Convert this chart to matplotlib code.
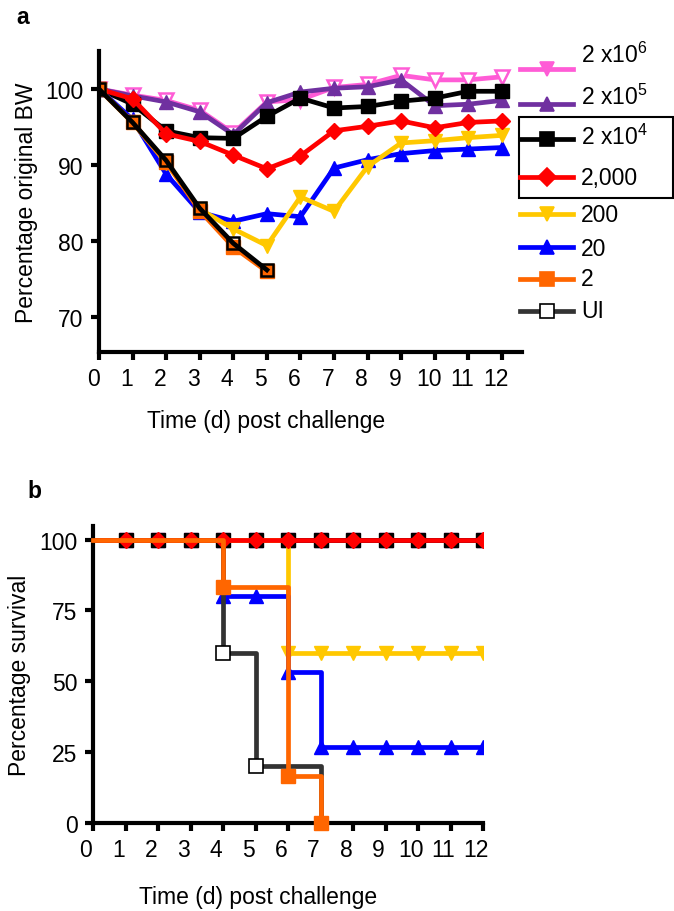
import matplotlib
matplotlib.use("Agg")
import matplotlib.pyplot as plt
from matplotlib.lines import Line2D
from matplotlib.patches import Rectangle
from matplotlib.transforms import ScaledTranslation

plt.rcParams['font.family'] = ['Liberation Sans', 'DejaVu Sans']
plt.rcParams['mathtext.fontset'] = 'custom'
plt.rcParams['mathtext.rm'] = 'Liberation Sans'

# ---- data: body weight (panel a) ----
days = list(range(13))
bw_2e6 = [100, 99.2, 98.5, 97.2, 94.2, 98.3, 98.6, 100.2, 100.6, 101.8, 101.2, 101.2, 101.6]
bw_2e5 = [100, 99.1, 98.3, 97.0, 94.0, 98.2, 99.6, 100.1, 100.3, 101.2, 97.8, 98.0, 98.5]
bw_2e4 = [100, 98.0, 94.5, 93.6, 93.5, 96.4, 98.8, 97.5, 97.7, 98.4, 98.8, 99.7, 99.7]
bw_2000 = [100, 98.7, 94.1, 93.1, 91.3, 89.5, 91.2, 94.5, 95.1, 95.8, 94.9, 95.6, 95.8]
bw_200 = [100, 95.6, 90.3, 84.2, 81.6, 79.4, 85.8, 83.9, 89.8, 92.9, 93.2, 93.6, 93.9]
bw_20 = [100, 96.0, 88.8, 83.8, 82.6, 83.6, 83.2, 89.6, 90.7, 91.5, 91.9, 92.1, 92.3]
bw_2 = [100, 95.6, 90.4, 84.0, 79.2, 76.0]
bw_ui = [100, 95.6, 90.6, 84.3, 79.7, 76.2]

# ---- data: survival (panel b) ----
surv_hi_x = list(range(13))
surv_hi_y = [100] * 13
surv_200_x = [0, 6, 7, 8, 9, 10, 11, 12]
surv_200_y = [100, 60, 60, 60, 60, 60, 60, 60]
surv_20_x = [0, 4, 5, 6, 7, 8, 9, 10, 11, 12]
surv_20_y = [100, 80, 80, 53.3, 26.7, 26.7, 26.7, 26.7, 26.7, 26.7]
surv_2_x = [0, 4, 6, 7]
surv_2_y = [100, 83.3, 16.7, 0]
surv_ui_x = [0, 4, 5, 7]
surv_ui_y = [100, 60, 20, 0]

labels = ['2 x10$^{6}$', '2 x10$^{5}$', '2 x10$^{4}$', '2,000', '200', '20', '2', 'UI']

PINK = '#FF5CD6'
PURPLE = '#7030A0'
RED = '#FF0000'
YELLOW = '#FFC800'
BLUE = '#0000FF'
ORANGE = '#FF6600'
GREY = '#333333'

W, H = 674, 912
fig = plt.figure(figsize=(W / 100, H / 100), dpi=100)

def fpx(x, y):
    return x / W, 1 - y / H

FS = 16.5
LW = 3.4
MS = 9.5

def style_axes(ax, dx_label):
    for s in ['top', 'right']:
        ax.spines[s].set_visible(False)
    for s in ['left', 'bottom']:
        ax.spines[s].set_linewidth(3.0)
    ax.tick_params(direction='out', length=6, width=3.0, labelsize=FS, pad=5)
    off = ScaledTranslation(dx_label / 100, 0, fig.dpi_scale_trans)
    for lab in ax.get_xticklabels():
        lab.set_transform(lab.get_transform() + off)

# ---------------- panel a ----------------
axa = fig.add_axes([99 / W, 1 - 353 / H, 423 / W, 301 / H])
axa.plot(days, bw_2e6, color=PINK, lw=LW, marker='v', ms=MS, mfc='white', mec=PINK, mew=1.8)
axa.plot(days, bw_2e5, color=PURPLE, lw=LW, marker='^', ms=MS)
axa.plot(days, bw_2e4, color='black', lw=LW, marker='s', ms=MS)
axa.plot(days, bw_20, color=BLUE, lw=LW, marker='^', ms=MS)
axa.plot(days, bw_200, color=YELLOW, lw=LW, marker='v', ms=MS)
axa.plot(days, bw_2000, color=RED, lw=LW, marker='D', ms=MS - 1)
axa.plot(days[:len(bw_2)], bw_2, color=ORANGE, lw=LW, marker='s', ms=MS)
axa.plot(days[:len(bw_ui)], bw_ui, color='black', lw=LW, marker='s', ms=MS - 1,
         mfc='none', mec='black', mew=1.8)
axa.set_xlim(0, 12.6)
axa.set_ylim(65.4, 105)
axa.set_xticks(days)
axa.set_yticks([70, 80, 90, 100])
style_axes(axa, -6)
axa.set_ylabel('Percentage original BW', fontsize=FS)
axa.yaxis.set_label_coords(-0.145, 0.5)
axa.set_xlabel('Time (d) post challenge', fontsize=FS)
axa.xaxis.set_label_coords(0.395, -0.19)

# ---------------- panel b ----------------
axb = fig.add_axes([93 / W, 1 - 824 / H, 390 / W, 297 / H])
skip0 = slice(1, None)
axb.step(surv_hi_x, surv_hi_y, where='post', color=PINK, lw=LW, marker='v', ms=MS, markevery=skip0)
axb.step(surv_hi_x, surv_hi_y, where='post', color=PURPLE, lw=LW, marker='^', ms=MS, markevery=skip0)
axb.step(surv_hi_x, surv_hi_y, where='post', color='black', lw=LW, marker='s', ms=MS, markevery=skip0)
axb.step(surv_200_x, surv_200_y, where='post', color=YELLOW, lw=LW, marker='v', ms=MS, markevery=skip0)
axb.step(surv_20_x, surv_20_y, where='post', color=BLUE, lw=LW, marker='^', ms=MS, markevery=skip0)
axb.step(surv_ui_x, surv_ui_y, where='post', color=GREY, lw=LW, marker='s', ms=MS,
         mfc='white', mec='black', mew=1.2, markevery=[1, 2])
axb.step(surv_2_x, surv_2_y, where='post', color=ORANGE, lw=LW, marker='s', ms=MS,
         markevery=skip0, clip_on=False, zorder=3)
axb.step(surv_hi_x, surv_hi_y, where='post', color=RED, lw=LW, marker='D', ms=MS - 1, markevery=skip0)
axb.set_xlim(0, 12)
axb.set_ylim(0, 104.8)
axb.set_xticks(list(range(13)))
axb.set_yticks([0, 25, 50, 75, 100])
style_axes(axb, -7)
axb.set_ylabel('Percentage survival', fontsize=FS)
axb.yaxis.set_label_coords(-0.16, 0.5)
axb.set_xlabel('Time (d) post challenge', fontsize=FS)
axb.xaxis.set_label_coords(0.423, -0.21)

# panel letters
fig.text(*fpx(16, 17), 'a', fontsize=FS, fontweight='bold', va='center')
fig.text(*fpx(27, 492), 'b', fontsize=FS, fontweight='bold', va='center')

# ---------------- legend (panel a) ----------------
leg_style = [
    (PINK, 'v', PINK, 'none', 70, 55),
    (PURPLE, '^', PURPLE, 'none', 105, 97),
    ('black', 's', 'black', 'none', 140, 137),
    (RED, 'D', RED, 'none', 178, 178),
    (YELLOW, 'v', YELLOW, 'none', 215, 215),
    (BLUE, '^', BLUE, 'none', 248, 249),
    (ORANGE, 's', ORANGE, 'none', 280, 280),
    (GREY, 's', 'white', 'black', 312, 312),
]
for (col, mk, fc, ec, ly, ty), lab in zip(leg_style, labels):
    x0, y0 = fpx(520, ly)
    x1, _ = fpx(573, ly)
    xm, _ = fpx(547, ly)
    fig.add_artist(Line2D([x0, x1], [y0, y0], color=col, lw=LW, transform=fig.transFigure))
    fig.add_artist(Line2D([xm], [y0], marker=mk, ms=MS + 1 if mk != 'D' else MS,
                          mfc=fc, mec=(ec if ec != 'none' else fc), mew=1.2,
                          transform=fig.transFigure))
    fig.text(*fpx(581, ty), lab, fontsize=FS, va='center', ha='left')

bx, by = fpx(519, 199)
fig.add_artist(Rectangle((bx, by), (673 - 519) / W, (199 - 118) / H, fill=False,
                         lw=1.5, ec='black', transform=fig.transFigure))

fig.savefig('out.png', dpi=100)
